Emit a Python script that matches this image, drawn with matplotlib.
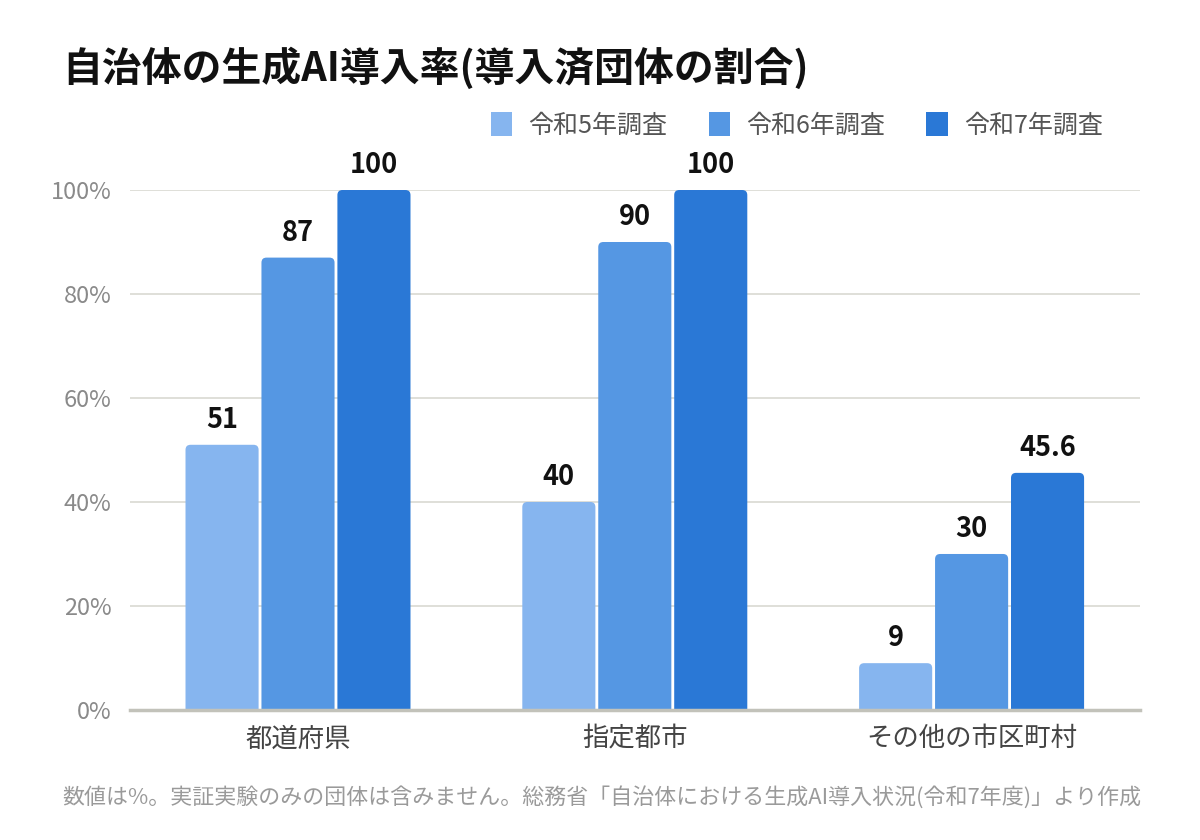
import matplotlib
matplotlib.use("Agg")
import matplotlib.pyplot as plt
from matplotlib.patches import FancyBboxPatch, Patch
import numpy as np

plt.rcParams['font.family'] = ['Noto Sans CJK JP', 'DejaVu Sans']

# Data
categories = ["都道府県", "指定都市", "その他の市区町村"]
series_names = ["令和5年調査", "令和6年調査", "令和7年調査"]
r5 = [51, 40, 9]
r6 = [87, 90, 30]
r7 = [100, 100, 45.6]
value_labels = [["51", "40", "9"], ["87", "90", "30"], ["100", "100", "45.6"]]
colors = ["#86b5ef", "#5597e3", "#2a78d6"]

fig = plt.figure(figsize=(12, 8.4), dpi=100)
ax = fig.add_axes([0.108, 0.1548, 0.842, 0.619])

x = np.arange(len(categories))
width = 0.217
step = 0.2255
# rounded top corners: px per x unit ~337, px per y unit ~5.2
rad = 0.015
aspect = 337 / 5.2
for i, (vals, col) in enumerate(zip([r5, r6, r7], colors)):
    for xc, v, lab in zip(x + (i - 1) * step, vals, value_labels[i]):
        p = FancyBboxPatch((xc - width / 2, -3), width, v + 3,
                           boxstyle=f"round,pad=0,rounding_size={rad}",
                           mutation_aspect=aspect, facecolor=col, edgecolor='none',
                           zorder=3)
        ax.add_patch(p)
        ax.text(xc, v + 2.1, lab, ha='center', va='bottom', fontsize=19.5,
                fontweight='bold', color='#111111', clip_on=False)

ax.set_xlim(-0.5, 2.5)
ax.set_ylim(0, 100)
ax.set_yticks([0, 20, 40, 60, 80, 100])
ax.set_yticklabels([f"{v}%" for v in [0, 20, 40, 60, 80, 100]], color='#8a8a8a', fontsize=17)
ax.set_xticks(x)
ax.set_xticklabels(categories, fontsize=19, color='#444444')
ax.tick_params(axis='both', length=0)
ax.tick_params(axis='y', pad=13)
ax.tick_params(axis='x', pad=11)
ax.grid(axis='y', color='#dcdcd6', linewidth=1.3, zorder=0)
ax.set_axisbelow(True)
for s in ['top', 'right', 'left']:
    ax.spines[s].set_visible(False)
ax.spines['bottom'].set_color('#c2c2ba')
ax.spines['bottom'].set_linewidth(2.5)
ax.spines['bottom'].set_zorder(4)

fig.text(0.052, 0.918, "自治体の生成AI導入率(導入済団体の割合)", fontsize=28.7, fontweight='bold',
         color='#111111', ha='left', va='center')

handles = [Patch(facecolor=c, edgecolor='none', label=n) for c, n in zip(colors, series_names)]
leg = fig.legend(handles=handles, loc='center right', bbox_to_anchor=(0.919, 0.851), ncol=3,
                 frameon=False, fontsize=18, handlelength=0.85, handleheight=1.1,
                 columnspacing=1.65, handletextpad=0.65, borderpad=0, borderaxespad=0)
for t in leg.get_texts():
    t.set_color('#555555')

fig.text(0.052, 0.051, "数値は%。実証実験のみの団体は含みません。総務省「自治体における生成AI導入状況(令和7年度)」より作成",
         fontsize=15.8, color='#9a9a9a', ha='left', va='center')

fig.savefig("out.png", dpi=100)
